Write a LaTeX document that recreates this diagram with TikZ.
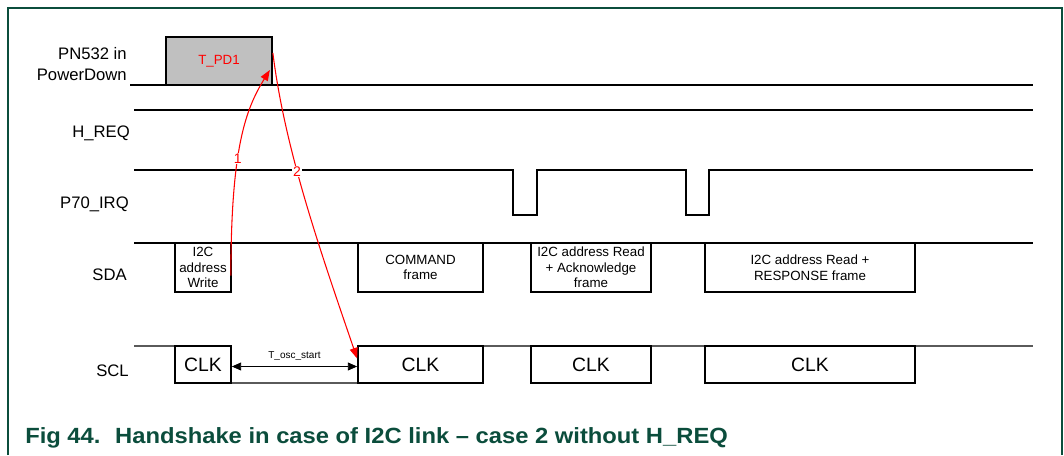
\documentclass[tikz,border=0pt]{standalone}
\usepackage{fontspec}
\setmainfont{Liberation Sans}
\newfontfamily\capfont[FakeStretch=1.08]{Liberation Sans}
\usetikzlibrary{arrows.meta,positioning,calc}
\definecolor{nxpg}{HTML}{0B4D3C}
\definecolor{pdgray}{HTML}{C0C0C0}
\definecolor{sclg}{HTML}{5A5A5A}

\begin{document}
\begin{tikzpicture}[x=0.75pt, y=-0.75pt,
    sig/.style={line width=1.4pt},
    sclline/.style={line width=1pt, color=sclg},
    frm/.style={draw, line width=1.3pt, inner sep=0pt, align=center, font=\fontsize{10}{11.6}\selectfont},
    sdabox/.style={frm, minimum height=36.75pt},
    clkbox/.style={frm, minimum height=27.75pt, font=\fontsize{14.5}{16}\selectfont},
    lbl/.style={anchor=base east, align=right, inner sep=0pt, font=\fontsize{12.5}{15.75}\selectfont},
    redarr/.style={draw=red, line width=0.8pt, -{Triangle[length=8pt,width=6pt]}},
    num/.style={fill=white, text=red, inner sep=0.6pt, font=\fontsize{10.5}{11}\selectfont},
    tarr/.style={{Triangle[length=7pt,width=6pt]}-{Triangle[length=7pt,width=6pt]}, line width=0.7pt}]
  \useasboundingbox (0,0) rectangle (1064,455);
  \draw[nxpg, line width=1.2pt] (8,455) -- (8,8) -- (1062,8) -- (1062,455);

  % signal names
  \node[lbl, anchor=east] (lpd) at (127,64) {PN532 in\\PowerDown};
  \node[lbl] (lhreq) at (130,137) {H\_REQ};
  \node[lbl] (lirq) at (129,208) {P70\_IRQ};
  \node[lbl] (lsda) at (127,280) {SDA};
  \node[lbl] (lscl) at (129,376) {SCL};

  % levels
  \draw[sig] (130,85) -- (1033,85);
  \draw[sig] (134,110) -- (1033,110);
  \draw[sig] (134,170) -- (513,170) -- (513,215) -- (537,215) -- (537,170)
    -- (686,170) -- (686,215) -- (709,215) -- (709,170) -- (1033,170);
  \draw[sig] (134,243) -- (1033,243);
  \draw[sclline] (134,346) -- (175,346);
  \draw[sclline] (231,383) -- (358,383);
  \draw[sclline] (483,346) -- (531,346);
  \draw[sclline] (651,346) -- (705,346);
  \draw[sclline] (915,346) -- (1033,346);

  \node[frm, fill=pdgray, minimum width=79.5pt, minimum height=36pt, text=red] (pd) at (219,61) {T\_PD1};

  \node[sdabox, minimum width=42pt] (sda1) at (203,267.5) {I2C\\address\\Write};
  \node[sdabox, minimum width=93.75pt] (sda2) at (420.5,267.5) {COMMAND\\frame};
  \node[sdabox, minimum width=90pt] (sda3) at (591,267.5) {I2C address Read\\+ Acknowledge\\frame};
  \node[sdabox, minimum width=157.5pt] (sda4) at (810,267.5) {I2C address Read +\\RESPONSE frame};

  \node[clkbox, minimum width=42pt] (clk1) at (203,364.5) {CLK};
  \node[clkbox, minimum width=93.75pt] (clk2) at (420.5,364.5) {CLK};
  \node[clkbox, minimum width=90pt] (clk3) at (591,364.5) {CLK};
  \node[clkbox, minimum width=157.5pt] (clk4) at (810,364.5) {CLK};

  \draw[tarr] ($(clk1.east)+(0,2)$) -- node[above=1pt, font=\fontsize{7.5}{8}\selectfont] (tosc) {T\_osc\_start} ($(clk2.west)+(0,2)$);

  \coordinate (w1) at ($(sda1.east)+(-1,8)$);
  \coordinate (p1) at ($(pd.east)+(-3,9)$);
  \coordinate (p2) at ($(pd.east)+(0,-8)$);
  \coordinate (c2) at ($(clk2.west)+(0,-6)$);
  \draw[redarr] (w1) .. controls (231,150) and (245,110) .. node[num, pos=0.41] (n1) {1} (p1);
  \draw[redarr] (p2) .. controls (285,150) and (320,250) .. node[num, pos=0.4] (n2) {2} (c2);

  \node[anchor=base west, inner sep=0pt, text=nxpg, font=\capfont\bfseries\fontsize{16.5}{19}\selectfont] (cap) at (25,443)
    {Fig 44.\hspace{11pt}Handshake in case of I2C link – case 2 without H\_REQ};
\end{tikzpicture}
\end{document}
